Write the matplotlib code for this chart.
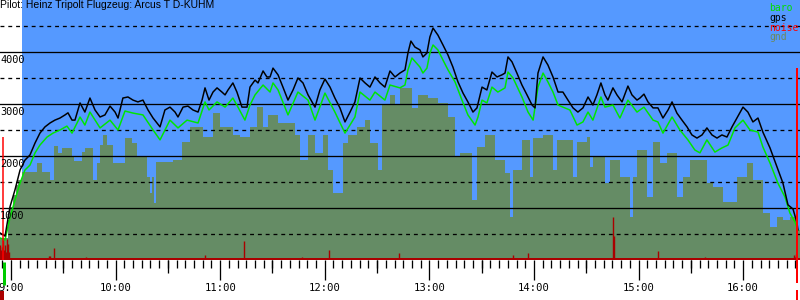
import matplotlib
matplotlib.use("Agg")
import matplotlib.pyplot as plt
from matplotlib.ticker import MultipleLocator

# ---------------- data (time in minutes after 9:00, altitude in m) ----------------
title = "Pilot: Heinz Tripolt Flugzeug: Arcus T D-KUHM"
legend_names = ["baro", "gps", "noise", "gnd"]

gps_min = [-6.3, -3.4, -0.6, 2.3, 5.2, 8.0, 10.9, 13.8, 16.6, 19.5, 22.4, 25.2, 28.1, 31.0, 32.7,
           35.0, 36.7, 39.6, 42.4, 45.3, 48.2, 51.1, 53.9, 56.8, 59.7, 61.4, 64.2, 67.1, 70.0,
           72.8, 75.7, 78.6, 81.5, 85.5, 88.3, 91.2, 94.1, 95.8, 98.7, 101.5, 104.4, 107.3,
           109.6, 111.3, 113.6, 115.9, 118.2, 121.0, 122.8, 124.5, 127.3, 129.6, 132.5, 135.4,
           137.1, 140.0, 141.7, 144.6, 146.8, 148.6, 150.3, 153.2, 156.0, 158.9, 161.8, 164.6,
           167.5, 170.4, 174.4, 177.2, 180.1, 183.0, 185.8, 188.7, 191.6, 194.5, 197.3, 200.2,
           203.1, 205.9, 208.8, 211.7, 214.5, 217.4, 220.3, 223.1, 226.0, 227.7, 229.4, 231.7,
           234.6, 236.3, 238.6, 240.3, 242.1, 244.9, 247.8, 250.7, 253.5, 256.4, 259.3, 262.1,
           265.0, 267.3, 270.2, 273.0, 275.9, 278.8, 281.6, 283.4, 285.1, 287.4, 290.2, 293.1,
           296.0, 298.9, 300.6, 302.3, 305.2, 308.0, 310.9, 313.8, 316.6, 319.5, 322.4, 325.2,
           328.1, 331.0, 333.8, 336.1, 338.4, 340.7, 342.4, 345.3, 347.6, 350.5, 353.9, 356.2,
           359.1, 360.8, 363.1, 365.4, 368.3, 371.1, 374.0, 376.9, 379.2, 382.0, 384.9, 387.8,
           390.6, 393.5, 396.4, 399.2, 402.1, 405.0, 407.8, 410.7, 413.6, 416.4, 419.9, 422.7,
           425.6, 428.5, 431.3, 435.4, 439.4, 442.8, 445.7, 448.6, 450.9, 451.4]
gps_alt = [520, 460, 1020, 1350, 1730, 1920, 2020, 2250, 2440, 2560, 2635, 2690, 2730, 2790, 2830,
           2690, 2690, 3020, 2845, 3115, 2885, 2750, 2790, 2960, 2845, 2730, 3115, 3135, 3075,
           3040, 3075, 2885, 2730, 2560, 2885, 2940, 2845, 2750, 2940, 2960, 2885, 2845,
           3075, 3310, 3075, 3230, 3310, 3230, 3175, 3270, 3405, 3230, 2940, 2940,
           3325, 3460, 3405, 3635, 3520, 3520, 3690, 3560, 3325, 3075, 3270, 3500,
           3405, 3175, 2940, 3270, 3480, 3325, 3115, 2925, 2655, 2845, 3040, 3500,
           3405, 3325, 3520, 3405, 3325, 3635, 3520, 3595, 3655, 3980, 4210, 4095,
           4040, 3905, 3980, 4290, 4460, 4325, 4135, 3940, 3710, 3425, 3210, 3040,
           2845, 2925, 3325, 3270, 3615, 3520, 3560, 3595, 3905, 3810, 3595, 3365,
           3175, 2980, 2925, 3595, 3905, 3750, 3520, 3230, 3230, 3075, 2925, 2845,
           2925, 3135, 2980, 3175, 3405, 3175, 3075, 3310, 3175, 3040, 3345, 3175,
           3075, 3115, 3190, 3040, 2925, 2925, 2730, 2885, 3040, 2825, 2690, 2560,
           2405, 2345, 2405, 2540, 2405, 2345, 2405, 2365, 2560, 2730, 2940, 2845,
           2655, 2730, 2460, 2155, 1790, 1480, 1060, 980, 710, 580]

baro_min = [-6.3, -3.4, -0.6, 2.3, 5.2, 8.0, 10.9, 13.8, 16.6, 20.7, 24.1, 28.1, 32.1, 35.0, 39.6,
            42.4, 45.3, 51.1, 56.8, 61.4, 65.4, 70.0, 75.7, 81.5, 85.5, 91.2, 95.8, 101.0, 107.3,
            111.3, 113.6, 118.2, 122.8, 127.3, 130.2, 134.2, 137.1, 140.0, 144.6, 148.6, 150.3,
            153.2, 158.9, 164.6, 170.4, 174.4, 180.1, 185.8, 191.6, 197.3, 200.2, 205.9, 208.8,
            214.5, 217.4, 223.1, 226.0, 227.7, 230.0, 234.6, 236.3, 238.6, 240.3, 242.1, 244.9,
            247.8, 250.7, 254.7, 258.7, 262.1, 266.2, 267.9, 270.2, 273.0, 275.9, 279.3, 283.4,
            285.1, 288.0, 293.1, 296.6, 299.5, 302.3, 305.2, 308.0, 310.9, 313.8, 316.6, 320.6,
            324.7, 328.1, 331.0, 333.8, 338.4, 340.7, 345.3, 349.3, 353.9, 359.1, 363.1, 368.3,
            371.1, 374.0, 379.2, 383.7, 388.3, 392.3, 395.2, 399.2, 403.8, 407.8, 411.3, 415.3,
            419.9, 423.9, 428.5, 431.3, 435.4, 439.9, 444.0, 446.8, 449.7, 451.4]
baro_alt = [425, 385, 810, 1155, 1480, 1730, 1825, 2060, 2210, 2365, 2440, 2500, 2575, 2440, 2750,
            2595, 2845, 2540, 2690, 2500, 2865, 2825, 2790, 2500, 2310, 2690, 2540, 2690, 2635,
            3040, 2885, 3040, 2940, 3115, 2940, 2690, 2980, 3175, 3365, 3230, 3405,
            3270, 2790, 3230, 3075, 2690, 3210, 2845, 2440, 2750, 3230, 3075, 3230,
            3075, 3365, 3310, 3365, 3655, 3885, 3710, 3595, 3690, 3980, 4135, 4040,
            3845, 3655, 3425, 3075, 2790, 2595, 2750, 3075, 3020, 3325, 3230, 3310,
            3615, 3500, 3135, 2845, 2690, 3325, 3595, 3425, 3230, 2980, 2940, 2885,
            2595, 2655, 2845, 2690, 3135, 2940, 2980, 2730, 3075, 2845, 2940, 2690,
            2655, 2440, 2750, 2500, 2310, 2115, 2060, 2310, 2075, 2155, 2210, 2540,
            2690, 2500, 2460, 2175, 1865, 1480, 1210, 905, 730, 580]

gnd_min = [-6.3, -1.7, -0.6, 1.1, 2.9, 4.0, 6.3, 14.9, 17.8, 22.4, 24.7, 27.0, 29.3, 35.0, 36.1,
           40.7, 42.4, 47.0, 49.3, 51.1, 52.8, 55.1, 58.5, 65.4, 69.4, 72.3, 78.0, 79.7, 80.9,
           82.0, 83.2, 92.9, 98.1, 102.7, 110.1, 115.9, 119.9, 127.3, 131.4, 137.1, 141.1,
           144.6, 147.4, 153.2, 162.9, 165.8, 170.4, 174.4, 179.0, 181.8, 184.7, 190.4, 193.3,
           198.4, 203.1, 205.9, 210.5, 212.8, 217.4, 220.3, 223.1, 230.0, 233.5, 239.2, 244.9,
           250.7, 254.7, 257.6, 264.4, 267.3, 271.9, 277.6, 283.4, 286.3, 288.0, 293.1, 297.7,
           299.5, 305.2, 310.9, 313.2, 322.4, 324.7, 330.4, 332.1, 333.8, 340.7, 343.6, 349.3,
           355.1, 356.8, 359.1, 364.8, 368.3, 372.3, 376.3, 382.0, 385.5, 389.5, 399.2, 402.7,
           408.4, 416.4, 422.2, 425.6, 431.3, 435.4, 439.4, 442.8, 446.8, 450.9, 452.6]
gnd_alt = [425, 770, 1020, 1250, 1440, 1540, 1690, 1865, 1690, 1540, 2190, 2060, 2155, 1980, 1905,
           2075, 2155, 1540, 1865, 2210, 2405, 2210, 1865, 2345, 2250, 1980, 1595, 1290, 1595,
           1095, 1885, 1925, 2270, 2560, 2365, 2825, 2560, 2405, 2365, 2560, 2940,
           2560, 2790, 2635, 2405, 1925, 2405, 2060, 2405, 1730, 1290, 2250, 2405,
           2560, 2690, 2250, 1730, 2980, 3175, 2980, 3310, 2925, 3175, 3115, 3020,
           2750, 1980, 2060, 1155, 2175, 2405, 1925, 1675, 825, 1730, 2310, 1595,
           2345, 2405, 1730, 2310, 1595, 2270, 2365, 1790, 1980, 1480, 1925, 1595,
           825, 1595, 2115, 1210, 2270, 1865, 2060, 1210, 1595, 1925, 1480, 1405,
           1115, 1595, 1865, 1540, 905, 635, 825, 770, 825, 580, 580]

noise_min = [-6.3, -5.7, -5.2, -4.6, -4.0, -3.4, -2.9, -2.3, -1.7, -1.1, 21.8, 22.4, 24.7, 43.0,
             111.3, 133.6, 166.9, 182.4, 222.6, 288.0, 296.6, 345.3, 345.9, 371.1, 398.0,
             449.1, 449.7, 450.3]
noise_val = [290, 200, 250, 380, 200, 290, 150, 400, 300, 150, 75, 75, 230, 60,
             95, 365, 60, 190, 135, 95, 135, 825, 460, 175, 60,
             95, 60, 120]
noise_floor = 40

engine_min = [-4.6, 450.9]          # high-noise (engine) markers
engine_alt = [2365, 3690]
takeoff_min = -4.0
sky_start_min = 6.3
x_start, x_end = -6.3, 452.6

solid_levels = [1000, 2000, 3000, 4000]
dashed_levels = [500, 1500, 2500, 3500, 4500]
y_labels = ["1000", "2000", "3000", "4000"]
hour_ticks = [0, 60, 120, 180, 240, 300, 360, 420]
hour_labels = ["9:00", "10:00", "11:00", "12:00", "13:00", "14:00", "15:00", "16:00"]
half_ticks = [30, 90, 150, 210, 270, 330, 390]

# ---------------- style ----------------
BLUE = "#5599ff"
GND = "#658c65"
BARO = "#00e600"
GPS = "#000000"
NOISE = "#aa0000"
ENGINE = "#ff0000"
PX = 0.72  # one pixel in points at 100 dpi
MONO = "DejaVu Sans Mono"

fig = plt.figure(figsize=(8, 3), dpi=100)
fig.patch.set_facecolor("white")
ax = fig.add_axes([0, 40 / 300, 1, 260 / 300])
ax.set_facecolor("white")
ax.set_xlim(x_start, x_end)
ax.set_ylim(0, 5000)
for s in ax.spines.values():
    s.set_visible(False)

ax.axvspan(sky_start_min, x_end, color=BLUE, lw=0, zorder=0)
ax.fill_between(gnd_min, gnd_alt, 0, step="post", color=GND, lw=0, zorder=1)

for lv in solid_levels:
    ax.axhline(lv, color="black", lw=1.3 * PX, zorder=2)
for lv in dashed_levels:
    ax.axhline(lv, color="black", lw=1.3 * PX, linestyle=(0, (3, 3)), zorder=2)

ax.axhspan(0, noise_floor, color=NOISE, lw=0, zorder=3)
ax.vlines(noise_min, 0, noise_val, color=NOISE, lw=1.4 * PX, zorder=3)

ax.plot(baro_min, baro_alt, color=BARO, lw=1.5 * PX, zorder=4)
ax.plot(gps_min, gps_alt, color=GPS, lw=1.5 * PX, zorder=5)

ax.vlines(engine_min[0], 0, engine_alt[0], color=ENGINE, lw=1.5 * PX, zorder=6)
ax.vlines(engine_min[1], -440, engine_alt[1], color=ENGINE, lw=2 * PX, zorder=6, clip_on=False)
ax.vlines(engine_min[1], -570, -770, color=ENGINE, lw=2 * PX, zorder=6, clip_on=False)
ax.vlines(takeoff_min, -480, -40, color="#00cc00", lw=3 * PX, zorder=6, clip_on=False)
ax.vlines(x_start + 1.2, -590, -770, color="#aa0000", lw=4 * PX, zorder=6, clip_on=False)

# y labels
for lv, lab in zip(solid_levels, y_labels):
    ax.annotate(lab, xy=(0, lv), xycoords=("axes fraction", "data"), xytext=(0, -2.2),
                textcoords="offset points", ha="left", va="top", fontfamily=MONO,
                fontsize=7.4, color="black", zorder=7)
ax.set_yticks([])

# x ticks
ax.set_xticks(hour_ticks)
ax.set_xticklabels(hour_labels, fontfamily=MONO, fontsize=7.6)
ax.xaxis.set_minor_locator(MultipleLocator(5))
ax.tick_params(axis="x", which="major", direction="out", length=20 * PX, width=1.3 * PX,
               pad=2, color="black")
ax.tick_params(axis="x", which="minor", direction="out", length=8 * PX, width=1.3 * PX,
               color="black")
sec = ax.secondary_xaxis("bottom")
sec.set_xticks(half_ticks)
sec.tick_params(axis="x", which="major", direction="out", length=13 * PX, width=1.3 * PX,
                labelbottom=False)
sec.xaxis.set_minor_locator(MultipleLocator(1000))
for s in sec.spines.values():
    s.set_visible(False)

# title and legend
fig.text(0.5 / 800, 1 - 0.5 / 300, title, ha="left", va="top",
         fontfamily="Liberation Sans", fontsize=7.5, color="black")
legend_colors = ["#00dd00", "#000000", "#ff0000", "#6b8a5e"]
for i, (name, col) in enumerate(zip(legend_names, legend_colors)):
    fig.text(769 / 800, 1 - (11 + 9.8 * i) / 300, name, ha="left", va="baseline",
             fontfamily=MONO, fontsize=7.0, color=col)

fig.savefig("out.png", dpi=100)
